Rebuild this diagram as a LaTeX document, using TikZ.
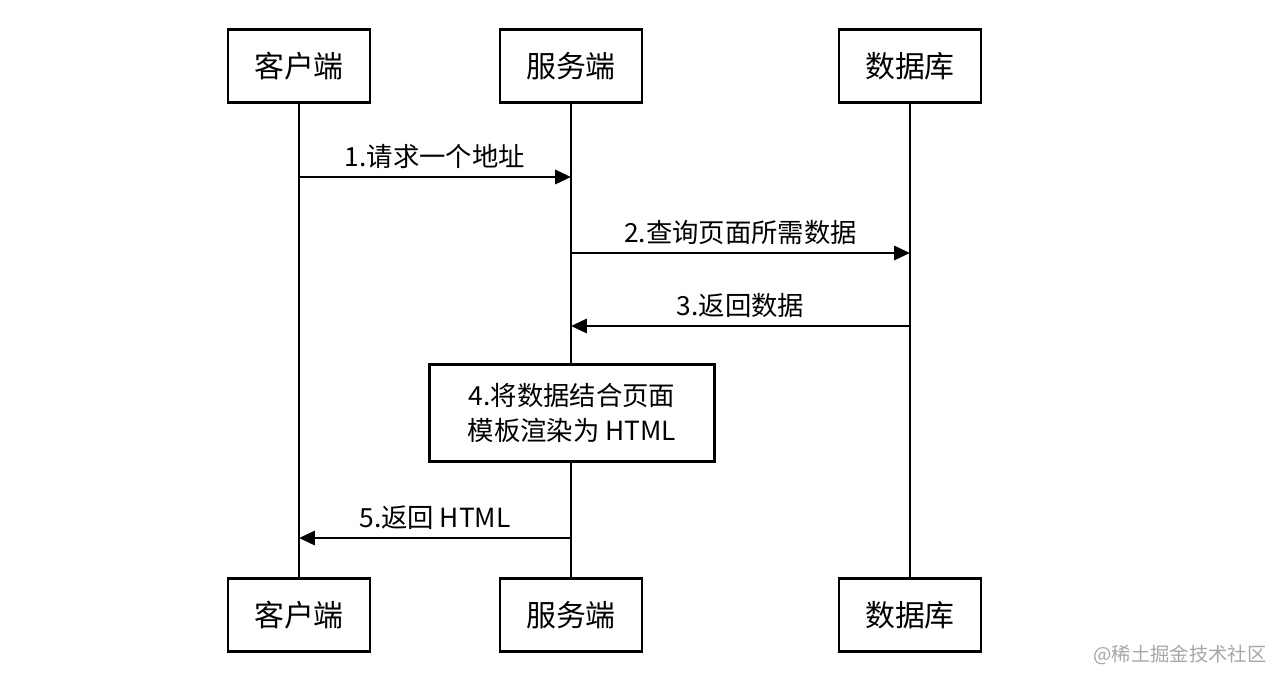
\documentclass[tikz,border=0pt]{standalone}
\usepackage{fontspec}
\setmainfont{Noto Sans CJK SC}
\newfontfamily\monofont{Liberation Mono}
\usetikzlibrary{arrows.meta}
\begin{document}
\begin{tikzpicture}[x=0.02cm,y=-0.02cm,
  actor/.style={draw,line width=1.6pt,minimum width=142*0.02cm,minimum height=73*0.02cm,font=\fontsize{17}{20}\selectfont,inner sep=0pt},
  life/.style={line width=1.6pt},
  msg/.style={line width=1.6pt,-{Triangle[length=9pt,width=8pt]}},
  lbl/.style={font=\fontsize{15}{18}\selectfont,above,inner sep=4pt}]
\useasboundingbox (0,0) rectangle (1280,684);
\node[actor] (c1) at (299,66) {客户端};
\node[actor] (s1) at (571,66) {服务端};
\node[actor] (d1) at (910,66) {数据库};
\node[actor] (c2) at (299,615) {客户端};
\node[actor] (s2) at (571,615) {服务端};
\node[actor] (d2) at (910,615) {数据库};
\draw[life] (c1) -- (c2);
\draw[life] (s1) -- (s2);
\draw[life] (d1) -- (d2);
\coordinate (a1s) at (299,177); \coordinate (a1e) at (571,177);
\coordinate (a2s) at (571,253); \coordinate (a2e) at (910,253);
\coordinate (a3s) at (910,326); \coordinate (a3e) at (571,326);
\coordinate (a5s) at (571,538); \coordinate (a5e) at (299,538);
\draw[msg] (a1s) -- node[lbl] {1.请求一个地址} (a1e);
\draw[msg] (a2s) -- node[lbl] {2.查询页面所需数据} (a2e);
\draw[msg] (a3s) -- node[lbl] {3.返回数据} (a3e);
\node[draw,fill=white,line width=1.6pt,minimum width=285*0.02cm,minimum height=97*0.02cm,align=center,font=\fontsize{15}{20}\selectfont] (p4) at (572,413) {4.将数据结合页面\\模板渲染为 HTML};
\draw[msg] (a5s) -- node[lbl] {5.返回 HTML} (a5e);
\node[text=gray!70,font=\fontsize{11}{13}\selectfont] (wm) at (1180,655) {@稀土掘金技术社区};
\end{tikzpicture}
\end{document}
